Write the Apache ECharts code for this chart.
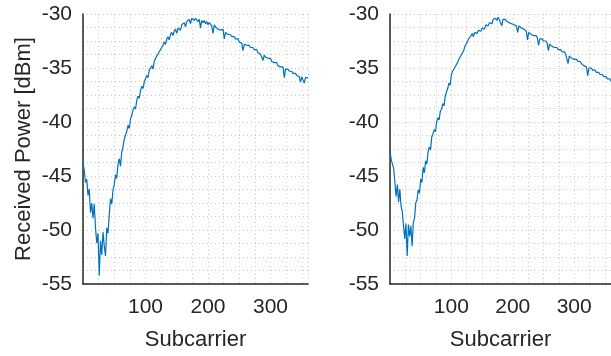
<!DOCTYPE html>
<html>
<head>
<meta charset="utf-8">
<script src="https://cdn.jsdelivr.net/npm/echarts@6/dist/echarts.min.js"></script>
<style>
  html, body { margin: 0; padding: 0; background: #fff; }
  #chart { width: 611px; height: 356px; }
</style>
</head>
<body>
<div id="chart"></div>
<script>
// Subcarrier indices (every second subcarrier, 0..360)
const subcarriers = Array.from({ length: 181 }, (_, i) => i * 2);

// Received power per subcarrier [dBm], first capture
const powerA = [
  -43.8, -44.5, -45.6, -45.3, -46.8, -46.2, -48.4, -47.5, -48.9, -47.6,
  -49.8, -51.2, -50.3, -54.2, -51.0, -52.3, -50.2, -51.5, -52.4, -49.8,
  -50.3, -48.6, -47.1, -47.6, -46.3, -45.8, -44.9, -45.2, -43.9, -43.4,
  -44.1, -42.8, -42.3, -41.6, -41.2, -40.9, -40.3, -40.6, -39.7, -39.4,
  -38.9, -38.6, -38.8, -38.0, -37.6, -37.8, -37.1, -36.7, -36.9, -36.3,
  -36.0, -35.7, -35.9, -35.2, -35.0, -34.8, -35.1, -34.4, -34.1, -33.9,
  -34.0, -33.5, -33.3, -33.1, -32.9, -32.6, -32.8, -32.3, -32.1, -32.4,
  -31.9, -31.7, -32.0, -31.6, -31.4, -31.8, -31.3, -31.2, -31.5, -31.0,
  -31.1, -30.8, -31.2, -30.7, -30.8, -30.5, -30.9, -30.4, -30.3, -30.6,
  -30.4, -30.5, -30.7, -30.5, -31.3, -30.6, -30.8, -30.6, -30.9, -30.7,
  -31.0, -30.8, -30.9, -31.1, -31.8, -31.0, -31.2, -31.1, -31.4, -31.3,
  -31.5, -31.6, -31.4, -32.3, -31.7, -31.8, -31.9, -32.0, -31.9, -32.1,
  -32.2, -32.1, -32.3, -32.4, -32.3, -32.6, -32.5, -32.7, -33.4, -32.8,
  -32.7, -32.9, -33.0, -32.9, -33.1, -33.2, -33.1, -33.3, -33.4, -33.3,
  -33.6, -33.5, -33.7, -33.6, -34.3, -33.8, -34.0, -33.9, -34.1, -34.2,
  -34.1, -34.4, -34.3, -34.5, -34.6, -34.5, -34.8, -34.7, -34.9, -35.0,
  -34.9, -35.9, -35.1, -35.2, -35.1, -35.3, -35.4, -35.3, -35.5, -35.6,
  -35.5, -35.7, -35.6, -35.8, -36.3, -35.8, -35.9, -36.4, -35.9, -36.0,
  -35.9
];

// Received power per subcarrier [dBm], second capture
const powerB = [
  -42.6, -43.5, -43.4, -44.3, -45.6, -46.9, -45.8, -47.4, -46.2, -47.8,
  -48.3, -49.6, -50.8, -49.4, -52.4, -49.5, -50.6, -49.6, -51.5, -49.3,
  -48.9, -47.5, -47.2, -46.3, -46.6, -45.3, -45.6, -44.2, -44.7, -43.6,
  -43.9, -42.8, -42.3, -42.6, -41.4, -41.1, -40.7, -40.9, -40.0, -39.6,
  -39.8, -39.0, -38.8, -38.3, -38.5, -37.6, -37.2, -36.9, -36.4, -36.6,
  -35.6, -35.3, -35.4, -34.9, -34.7, -34.5, -34.2, -34.0, -33.8, -33.6,
  -33.4, -33.0, -32.8, -32.6, -32.3, -32.2, -32.0, -31.8, -32.1, -31.7,
  -31.6, -31.8, -31.5, -31.4, -31.6, -31.3, -31.2, -31.4, -31.0, -30.9,
  -31.1, -30.8, -30.7, -30.9, -30.5, -30.6, -30.4, -30.6, -30.3, -30.5,
  -30.4, -31.1, -30.5, -30.6, -30.5, -30.7, -30.6, -30.8, -30.7, -30.9,
  -30.8, -31.0, -30.9, -31.1, -31.7, -31.1, -31.2, -31.3, -31.2, -31.4,
  -31.5, -31.6, -32.4, -31.7, -31.8, -31.9, -31.8, -32.0, -32.1, -32.0,
  -32.2, -32.9, -32.3, -32.4, -32.3, -32.5, -32.6, -32.5, -32.7, -33.4,
  -32.8, -32.9, -33.0, -32.9, -33.1, -33.2, -33.1, -33.3, -33.4, -33.3,
  -33.5, -33.6, -33.5, -33.7, -33.8, -34.6, -33.9, -34.0, -34.1, -34.0,
  -34.2, -34.3, -34.2, -34.4, -34.5, -34.4, -34.6, -34.7, -34.8, -34.7,
  -34.9, -35.7, -35.0, -35.1, -35.0, -35.2, -35.3, -35.2, -35.4, -35.5,
  -35.4, -35.6, -35.7, -35.6, -35.8, -35.9, -35.8, -36.0, -36.1, -36.0,
  -36.2
];

// Axis ranges and tick steps
const xRange = [0, 360];
const xStep = 100;
const yRange = [-55, -30];
const yStep = 5;

const FONT = "'Liberation Sans', Arial, Helvetica, sans-serif";
const TEXT = '#262626';
const LINE = '#0072BD';
const GRID_DOTS = { color: '#c6c6c6', width: 1, type: [1, 3] };
const TICK_SIZE = 21;
const NAME_SIZE = 22;

function xAxisFor(gridIndex) {
  return {
    type: 'value',
    gridIndex,
    min: xRange[0],
    max: xRange[1],
    interval: xStep,
    name: 'Subcarrier',
    nameLocation: 'middle',
    nameGap: 45,
    nameTextStyle: { fontFamily: FONT, fontSize: NAME_SIZE, color: TEXT },
    axisLine: { show: true, onZero: false, lineStyle: { color: TEXT, width: 1.5 } },
    axisTick: { show: false },
    axisLabel: {
      fontFamily: FONT, fontSize: TICK_SIZE, color: TEXT, margin: 13,
      showMinLabel: false, showMaxLabel: false,
      formatter: v => (v === xRange[0] || v === xRange[1] ? '' : String(v))
    },
    splitLine: { show: true, lineStyle: GRID_DOTS },
    minorTick: { show: false, splitNumber: 4 },
    minorSplitLine: { show: true, lineStyle: GRID_DOTS }
  };
}

function yAxisFor(gridIndex, withName) {
  return {
    type: 'value',
    gridIndex,
    min: yRange[0],
    max: yRange[1],
    interval: yStep,
    name: withName ? 'Received Power [dBm]' : '',
    nameLocation: 'middle',
    nameRotate: 90,
    nameGap: 48,
    nameTextStyle: { fontFamily: FONT, fontSize: NAME_SIZE, color: TEXT },
    axisLine: { show: true, lineStyle: { color: TEXT, width: 1.5 } },
    axisTick: { show: false },
    axisLabel: { fontFamily: FONT, fontSize: TICK_SIZE, color: TEXT, margin: 11 },
    splitLine: { show: true, lineStyle: GRID_DOTS },
    minorTick: { show: false, splitNumber: 4 },
    minorSplitLine: { show: true, lineStyle: GRID_DOTS }
  };
}

function lineFor(idx, values) {
  return {
    type: 'line',
    xAxisIndex: idx,
    yAxisIndex: idx,
    data: subcarriers.map((s, i) => [s, values[i]]),
    showSymbol: false,
    symbol: 'none',
    lineStyle: { color: LINE, width: 1.2 },
    clip: true,
    animation: false
  };
}

const chart = echarts.init(document.getElementById('chart'), null, { renderer: 'canvas' });
chart.setOption({
  backgroundColor: '#ffffff',
  animation: false,
  grid: [
    { left: 83, top: 14, width: 225, height: 270 },
    { left: 390, top: 14, width: 225, height: 270 }
  ],
  xAxis: [xAxisFor(0), xAxisFor(1)],
  yAxis: [yAxisFor(0, true), yAxisFor(1, false)],
  series: [lineFor(0, powerA), lineFor(1, powerB)]
});
</script>
</body>
</html>
